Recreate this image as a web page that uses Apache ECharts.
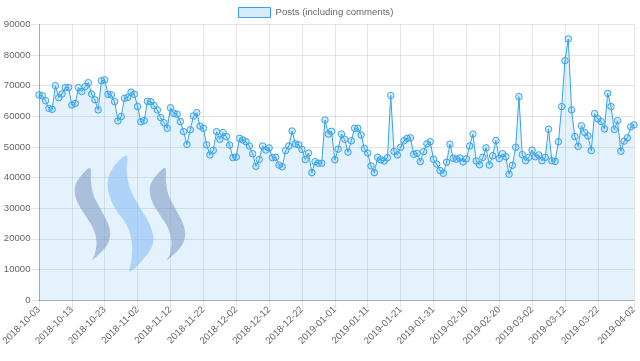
<!DOCTYPE html>
<html>
<head>
<meta charset="utf-8">
<script src="https://cdn.jsdelivr.net/npm/echarts@6/dist/echarts.min.js"></script>
<style>
html,body{margin:0;padding:0;background:#fff;}
#chart{width:640px;height:361px;}
</style>
</head>
<body>
<div id="chart"></div>
<script>
var startDate = '2018-10-03';
var dayCount = 182;
var seriesName = 'Posts (including comments)';
var posts = [
67000,66700,65100,62600,62300,70000,66100,67300,69400,69400,
63700,64200,69400,68100,69700,71000,67300,65400,62100,71600,
71900,67200,67000,64800,58500,59900,65900,66200,67900,67200,
63200,58200,58600,64900,64800,63500,62100,59600,57900,56100,
62800,61000,60700,58300,55000,50800,55600,60100,61200,56800,
56100,50700,47400,48900,55000,52500,54700,53400,50600,46500,
46700,52800,52300,51700,50300,47800,43700,45900,50300,49000,
49700,46500,46600,44100,43500,48800,50300,55200,51000,50700,
49200,45900,48000,41600,45200,44700,44700,58800,54200,55100,
45800,49300,54200,52500,48300,52000,56100,56100,53900,49500,
48000,43800,41600,46600,45800,45400,46500,66800,48500,47400,
49900,52000,52800,53000,47600,47900,45200,48500,51000,51700,
46000,44400,42300,41400,45000,50900,46300,46000,46400,45100,
46100,50300,54200,45400,44200,46600,49700,44100,47100,52100,
46200,47800,46800,41100,44000,49900,66400,47500,45500,46600,
49000,46800,47400,45500,46600,55800,45500,45300,51700,63200,
78200,85300,62100,53400,50200,56900,54700,53600,48800,60900,
59200,58300,55900,67500,63200,55700,58600,48600,51900,53000,
56600,57200
];
var yTicks = [0,10000,20000,30000,40000,50000,60000,70000,80000,90000];

function pad(n){return n<10?'0'+n:''+n;}
var dates = [];
(function(){
  var p = startDate.split('-');
  var d0 = Date.UTC(+p[0], +p[1]-1, +p[2]);
  for (var i = 0; i < dayCount; i++) {
    var d = new Date(d0 + i*86400000);
    dates.push(d.getUTCFullYear()+'-'+pad(d.getUTCMonth()+1)+'-'+pad(d.getUTCDate()));
  }
})();
var lastIdx = dayCount - 1;
function showTick(i){ return (i % 10 === 0 && i <= lastIdx - 11) || i === lastIdx; }

var chart = echarts.init(document.getElementById('chart'), null, {renderer:'canvas'});
var font = 'Liberation Sans, Arial, Helvetica, sans-serif';
var fs = 9.6;
var gridCol = 'rgba(0,0,0,0.1)';

function swoosh(pts, color){
  return {
    type:'polygon', z: 1, silent:true,
    shape:{points:pts, smooth:0.35},
    style:{fill:color}
  };
}
var leftPts = [[90,168],[80,177],[75,187],[76.5,200],[85,215],[93,228],[96.5,242],[94.5,255],[92,260],[105,248],[110,237],[108.5,225],[100,208],[93.5,195],[91,182]];
var midPts = [[126.7,155.7],[115,165],[108.3,178.3],[108.3,191.7],[115,208.3],[126.7,225],[131.7,241.7],[131.7,258.3],[130,271.7],[146.7,255],[153.3,241.7],[150,225],[138.3,205],[130,188.3],[126.7,171.7]];
var rightPts = leftPts.map(function(p){return [p[0]+75, p[1]];});

chart.setOption({
  animation:false,
  textStyle:{fontFamily:font},
  legend:{
    top:7, left:238, padding:0,
    icon:'rect', itemWidth:32, itemHeight:10, itemGap:5,
    textStyle:{color:'#666', fontSize:fs, fontFamily:font},
    data:[{name:seriesName, itemStyle:{color:'rgba(54,162,235,0.2)', borderColor:'rgb(54,162,235)', borderWidth:1}}]
  },
  grid:{left:39, right:6, top:24.5, bottom:61, containLabel:false, outerBoundsMode:'none'},
  graphic:[
    swoosh(leftPts,'rgba(135,148,188,0.55)'),
    swoosh(midPts,'rgba(145,190,245,0.55)'),
    swoosh(rightPts,'rgba(135,148,188,0.55)')
  ],
  xAxis:{
    type:'category', data:dates, boundaryGap:false,
    axisLine:{lineStyle:{color:'rgba(0,0,0,0.25)'}},
    axisTick:{show:true, interval:function(i){return showTick(i);}, length:8, lineStyle:{color:gridCol}},
    axisLabel:{interval:function(i){return showTick(i);}, rotate:45, margin:8, color:'#666', fontSize:fs, fontFamily:font},
    splitLine:{show:true, interval:function(i){return showTick(i);}, lineStyle:{color:gridCol}}
  },
  yAxis:{
    type:'value', min:yTicks[0], max:yTicks[yTicks.length-1], interval:yTicks[1]-yTicks[0],
    axisLine:{show:true, lineStyle:{color:'rgba(0,0,0,0.25)'}},
    axisTick:{show:true, length:8, lineStyle:{color:gridCol}},
    axisLabel:{margin:8.5, color:'#666', fontSize:fs, fontFamily:font, formatter:function(v){return String(v);}},
    splitLine:{show:true, lineStyle:{color:gridCol}}
  },
  series:[{
    name:seriesName, type:'line', data:posts, z:3,
    symbol:'circle', symbolSize:6.5, showAllSymbol:true,
    lineStyle:{color:'rgb(54,162,235)', width:1},
    itemStyle:{color:'rgba(54,162,235,0.2)', borderColor:'rgb(54,162,235)', borderWidth:1},
    areaStyle:{color:'rgba(54,162,235,0.2)', origin:'start'}
  }]
});
</script>
</body>
</html>
